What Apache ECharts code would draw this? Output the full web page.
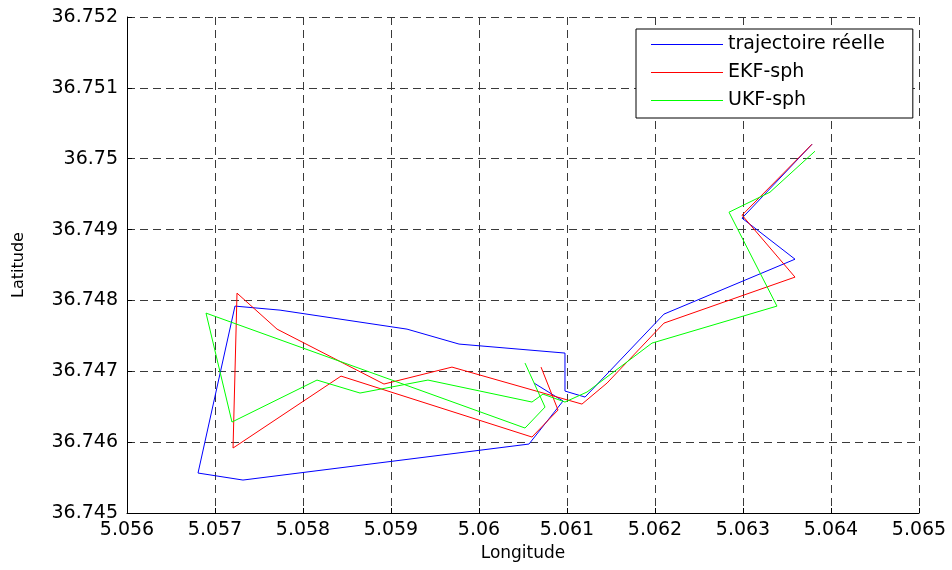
<!DOCTYPE html>
<html>
<head>
<meta charset="utf-8">
<script src="https://cdn.jsdelivr.net/npm/echarts@6/dist/echarts.min.js"></script>
<style>
html,body{margin:0;padding:0;background:#fff;}
#chart{width:952px;height:570px;}
</style>
</head>
<body>
<div id="chart"></div>
<script>
// Series names
var seriesNames = ['trajectoire réelle', 'EKF-sph', 'UKF-sph'];

// Real trajectory
var realLon = [5.060625, 5.060955, 5.060568, 5.057318, 5.056807, 5.057227, 5.057739, 5.059182, 5.059773, 5.060977, 5.060977, 5.061205, 5.062102, 5.063591, 5.062989, 5.063784];
var realLat = [36.746834, 36.746580, 36.745973, 36.745465, 36.745564, 36.747920, 36.747863, 36.747595, 36.747384, 36.747257, 36.746721, 36.746636, 36.747807, 36.748582, 36.749161, 36.750204];

// EKF-sph
var ekfLon = [5.060705, 5.060898, 5.060602, 5.058432, 5.057205, 5.057250, 5.057705, 5.058920, 5.059693, 5.061170, 5.061455, 5.062102, 5.063591, 5.062989, 5.063784];
var ekfLat = [36.747059, 36.746453, 36.746072, 36.746932, 36.745917, 36.748103, 36.747595, 36.746820, 36.747059, 36.746537, 36.746834, 36.747680, 36.748329, 36.749203, 36.750204];

// UKF-sph
var ukfLon = [5.060523, 5.060750, 5.060523, 5.056898, 5.057193, 5.058159, 5.058648, 5.059420, 5.060602, 5.060727, 5.060977, 5.061227, 5.061966, 5.063386, 5.062841, 5.063307, 5.063818];
var ukfLat = [36.747116, 36.746495, 36.746199, 36.747821, 36.746284, 36.746876, 36.746693, 36.746876, 36.746566, 36.746678, 36.746566, 36.746707, 36.747398, 36.747920, 36.749245, 36.749528, 36.750106];

// Axis ranges / ticks
var xMin = 5.056, xMax = 5.065, xStep = 0.001;
var yMin = 36.745, yMax = 36.752, yStep = 0.001;

function pairs(lon, lat) {
  var out = [];
  for (var i = 0; i < lon.length; i++) out.push([lon[i], lat[i]]);
  return out;
}
function fmt(v) { return String(parseFloat(Number(v).toFixed(3))); }

var font = 'DejaVu Sans';
var chart = echarts.init(document.getElementById('chart'), null, {renderer: 'canvas'});

var gridLine = {show: true, lineStyle: {color: '#3a3a3a', width: 1, type: [8, 5]}};

chart.setOption({
  animation: false,
  backgroundColor: '#ffffff',
  grid: {left: 127, top: 17, right: 33, bottom: 57, containLabel: false},
  xAxis: {
    type: 'value', min: xMin, max: xMax, interval: xStep,
    name: 'Longitude', nameLocation: 'middle', nameGap: 31,
    nameTextStyle: {fontFamily: font, fontSize: 17, color: '#000'},
    axisLine: {show: true, onZero: false, lineStyle: {color: '#000', width: 1}},
    axisTick: {show: true, inside: true, length: 5, lineStyle: {color: '#000'}},
    axisLabel: {fontFamily: font, fontSize: 19, color: '#000', margin: 8, formatter: fmt},
    splitLine: gridLine
  },
  yAxis: {
    type: 'value', min: yMin, max: yMax, interval: yStep,
    name: 'Latitude', nameLocation: 'middle', nameGap: 100,
    nameTextStyle: {fontFamily: font, fontSize: 16, color: '#000'},
    axisLine: {show: true, onZero: false, lineStyle: {color: '#000', width: 1}},
    axisTick: {show: true, inside: true, length: 5, lineStyle: {color: '#000'}},
    axisLabel: {fontFamily: font, fontSize: 19, color: '#000', margin: 9, formatter: fmt},
    splitLine: gridLine
  },
  legend: {
    orient: 'vertical', left: 636, top: 29,
    data: seriesNames,
    icon: 'rect', itemWidth: 72, itemHeight: 1, itemGap: 9,
    padding: [6, 28, 8, 15],
    backgroundColor: '#fff', borderColor: '#000', borderWidth: 1, borderRadius: 0,
    textStyle: {fontFamily: font, fontSize: 19, color: '#000', lineHeight: 18}
  },
  series: [
    {name: seriesNames[0], type: 'line', data: pairs(realLon, realLat), showSymbol: false, symbol: 'none',
     lineStyle: {color: '#0000ff', width: 1}, itemStyle: {color: '#0000ff'}, z: 3},
    {name: seriesNames[1], type: 'line', data: pairs(ekfLon, ekfLat), showSymbol: false, symbol: 'none',
     lineStyle: {color: '#ff0000', width: 1}, itemStyle: {color: '#ff0000'}, z: 4},
    {name: seriesNames[2], type: 'line', data: pairs(ukfLon, ukfLat), showSymbol: false, symbol: 'none',
     lineStyle: {color: '#00ff00', width: 1}, itemStyle: {color: '#00ff00'}, z: 5}
  ]
});
</script>
</body>
</html>
